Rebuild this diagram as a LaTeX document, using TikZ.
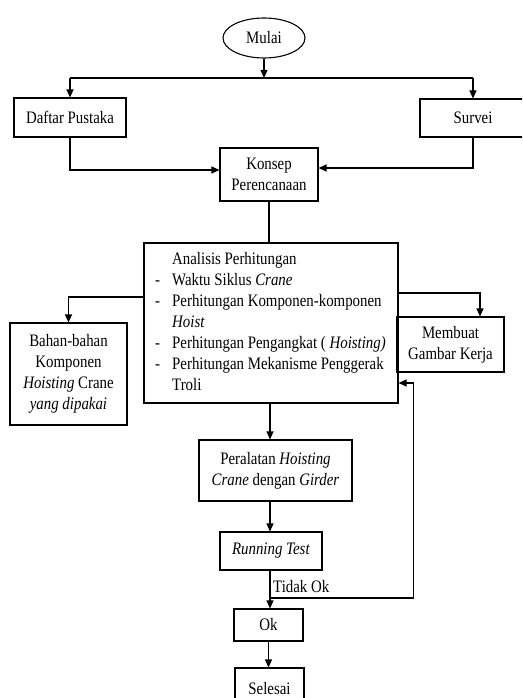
\documentclass[tikz,border=0pt]{standalone}
\usepackage{fontspec}
\setmainfont{Liberation Serif}[FakeStretch=0.85]
\usetikzlibrary{arrows.meta,shapes.geometric}
\tikzset{
  box/.style={draw, line width=1.1pt, rectangle, inner sep=0pt, align=center},
  arr/.style={line width=1.1pt, -{Triangle[length=8pt,width=7pt]}},
  ln/.style={line width=1.1pt},
}
\begin{document}
\begin{tikzpicture}[x=1pt,y=-1pt,font=\fontsize{17.5}{21}\selectfont]
\clip (0,0) rectangle (522,698);
\fill[white] (0,0) rectangle (522,698);
\node[draw, line width=1.1pt, ellipse, minimum width=82pt, minimum height=40pt, inner sep=0pt] (mulai) at (264,38) {Mulai};
\node[box, minimum width=112pt, minimum height=39pt] (daftar) at (70,117.5) {Daftar Pustaka};
\node[box, minimum width=106pt, minimum height=38pt] (survei) at (473,118) {Survei};
\node[box, minimum width=98pt, minimum height=53pt] (konsep) at (269,174.5) {Konsep\\Perencanaan};
\node[box, minimum width=254pt, minimum height=160pt] (analisis) at (271,323) {};
\node[anchor=north west, inner sep=0pt] (analisistext) at (155,250) {\begin{tabular}{@{}p{17pt}@{}l@{}}
 & Analisis Perhitungan\\
- & Waktu Siklus \textit{Crane}\\
- & Perhitungan Komponen-komponen\\
 & \textit{Hoist}\\
- & Perhitungan Pengangkat ( \textit{Hoisting)}\\
- & Perhitungan Mekanisme Penggerak\\
 & Troli
\end{tabular}};
\node[box, minimum width=117pt, minimum height=102pt] (bahan) at (68.5,374) {Bahan-bahan\\Komponen\\\textit{Hoisting} Crane\\\textit{yang dipakai}};
\node[box, minimum width=107pt, minimum height=55pt] (membuat) at (450.5,344.5) {Membuat\\Gambar Kerja};
\node[box, minimum width=153pt, minimum height=61pt] (peralatan) at (275.5,470.5) {Peralatan \textit{Hoisting}\\\textit{Crane} dengan \textit{Girder}};
\node[box, minimum width=102pt, minimum height=38pt] (running) at (271,551) {\textit{Running Test}};
\node[box, minimum width=69pt, minimum height=32pt] (ok) at (268.5,625) {Ok};
\node[box, minimum width=69pt, minimum height=42pt] (selesai) at (269.5,689) {Selesai};
\node[anchor=west, inner sep=0pt] (tidak) at (273,587) {Tidak Ok};
% connectors
\coordinate (split) at (264,78);
\coordinate (fb) at (270,598);
\draw[arr] (mulai.south) -- (split);
\draw[ln] (split -| daftar.north) -- (split -| survei.north);
\draw[arr] (split -| daftar.north) -- (daftar.north);
\draw[arr] (split -| survei.north) -- (survei.north);
\draw[arr] (daftar.south) |- ([yshift=4.5pt]konsep.west);
\draw[arr] (survei.south) |- ([yshift=6.5pt]konsep.east);
\draw[ln] (konsep.south) -- (konsep.south |- analisis.north);
\draw[arr] ([yshift=26pt]analisis.west) -| (bahan.north);
\draw[arr] ([yshift=30pt]analisis.east) -| ([xshift=29.5pt]membuat.north);
\draw[arr] ([xshift=-1pt]analisis.south) -- ([xshift=-1pt]analisis.south |- peralatan.north);
\draw[arr] ([xshift=-1pt]running.north |- peralatan.south) -- ([xshift=-1pt]running.north);
\draw[arr] ([xshift=-1pt]running.south) -- ([xshift=-1pt]running.south |- ok.north);
\draw[arr] (fb) -| ([xshift=15pt,yshift=-60pt]analisis.east) -- ([yshift=-60pt]analisis.east);
\draw[arr] (ok.south) -- (ok.south |- selesai.north);
\end{tikzpicture}
\end{document}
